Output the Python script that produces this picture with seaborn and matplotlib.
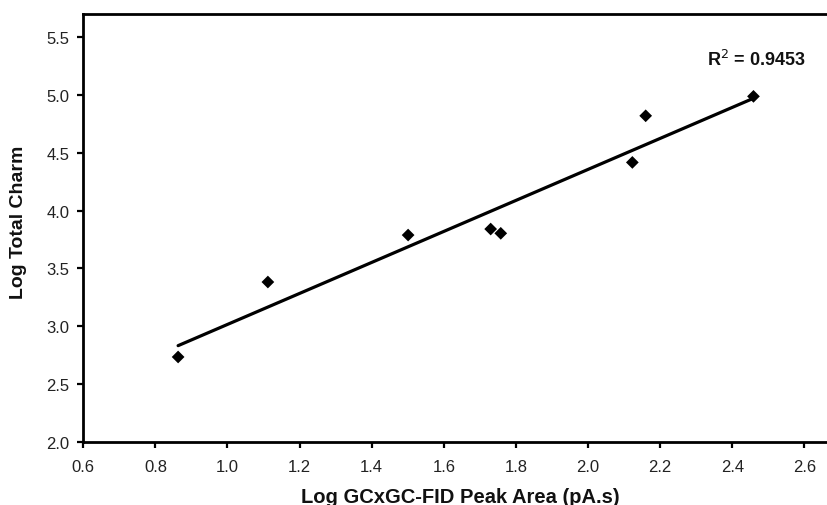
import numpy as np
import pandas as pd
import matplotlib
matplotlib.use("Agg")
import matplotlib.pyplot as plt
import seaborn as sns

# values
log_peak_area = [0.863, 1.112, 1.501, 1.730, 1.758, 2.123, 2.160, 2.459]
log_total_charm = [2.735, 3.383, 3.789, 3.841, 3.804, 4.417, 4.820, 4.988]
r2_text = "R$^2$ = 0.9453"
x_ticks = [0.6, 0.8, 1.0, 1.2, 1.4, 1.6, 1.8, 2.0, 2.2, 2.4, 2.6]
y_ticks = [2.0, 2.5, 3.0, 3.5, 4.0, 4.5, 5.0, 5.5]

df = pd.DataFrame({"x": log_peak_area, "y": log_total_charm})

sns.set_theme(style="ticks")
plt.rcParams["font.family"] = ["Liberation Sans", "DejaVu Sans"]

fig = plt.figure(figsize=(8.28, 5.06), dpi=100)
ax = fig.add_axes([83.3 / 828, 63 / 506, 1 - 83.3 / 828, 428 / 506])

sns.regplot(data=df, x="x", y="y", ci=None, truncate=True, ax=ax,
            marker="D", color="black",
            scatter_kws={"s": 42, "edgecolor": "none", "alpha": 1},
            line_kws={"linewidth": 2.3})

ax.set_xlim(0.6, 2.6 + (828 - 804.3) / 360.5)
ax.set_ylim(2.0, 5.7)
ax.set_xticks(x_ticks)
ax.set_yticks(y_ticks)
ax.set_xticklabels([f"{v:.1f}" for v in x_ticks])
ax.set_yticklabels([f"{v:.1f}" for v in y_ticks])
ax.tick_params(direction="out", length=4, width=1.6, color="black",
               labelsize=12, labelcolor="#222222")
ax.tick_params(axis="x", pad=8)
ax.tick_params(axis="y", pad=6)
for side in ["left", "bottom", "top"]:
    ax.spines[side].set_linewidth(2.0)
    ax.spines[side].set_color("black")
ax.spines["right"].set_visible(False)

ax.set_xlabel("Log GCxGC-FID Peak Area (pA.s)", fontsize=14.5,
              fontweight="bold", color="#111111")
ax.set_ylabel("Log Total Charm", fontsize=14, fontweight="bold",
              color="#111111")
ax.xaxis.set_label_coords(0.506, -0.105)
ax.yaxis.set_label_coords(-0.0756, 0.515)

ax.text(2.466, 5.31, r2_text, fontsize=13, fontweight="bold",
        ha="center", va="center", color="#111111")

fig.savefig("out.png", dpi=100)
